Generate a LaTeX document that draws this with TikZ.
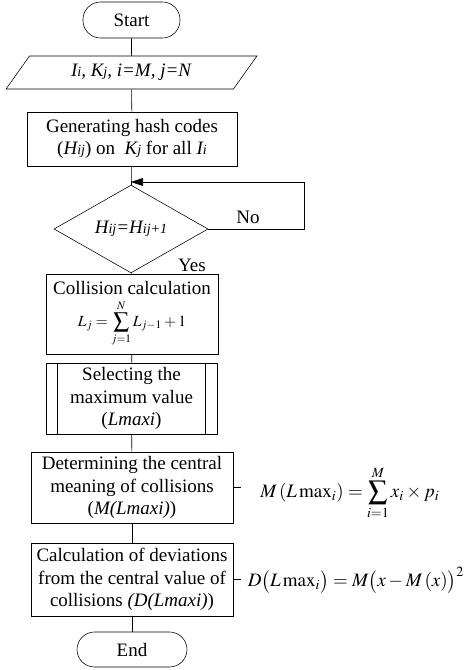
\documentclass[tikz,border=0pt]{standalone}
\usepackage{mathptmx}
\usepackage{fontspec}
\setmainfont{Liberation Serif}
\usetikzlibrary{shapes.geometric,arrows.meta}
\newcommand{\sm}[1]{{\fontsize{10}{12}\selectfont #1}}
\begin{document}
\begin{tikzpicture}[x=0.025cm,y=-0.025cm,
  every node/.style={font=\fontsize{13.5}{16}\selectfont},
  term/.style={draw,rounded corners=0.44cm,minimum width=2.425cm,minimum height=0.9cm},
  io/.style={draw,trapezium,trapezium left angle=60,trapezium right angle=120,
    trapezium stretches=true,minimum width=6.275cm,minimum height=0.825cm},
  box/.style={draw,align=center,inner sep=2pt},
  decision/.style={draw,diamond,inner sep=0pt,minimum width=3.85cm,minimum height=1.55cm}]
\useasboundingbox (0,0) rectangle (474,670);
% flow
\node (start) at (131.5,20) [term] {Start};
\node (input) at (131.5,72.5) [io] {\textit{I\sm{i}, K\sm{j}, i=M, j=N}};
\node (gen) at (132,139) [box,minimum width=5.25cm,minimum height=1.35cm]
  {Generating hash codes\\(\textit{H\sm{ij}}) on\ \ \textit{K\sm{j}} for all \textit{I\sm{i}}};
\node (check) at (131,229) [decision] {\textit{H\sm{ij}=H\sm{ij+1}}};
\coordinate (merge) at (131,182);
\coordinate (loop) at (304,229);
\node (coll) at (132,314) [box,minimum width=4.3cm,minimum height=2cm]
  {Collision calculation\\[3pt]{\fontsize{11}{12}\selectfont$\displaystyle L_j=\sum_{j=1}^{N}L_{j-1}+1$}};
\node (sel) at (131.5,398.5) [box,minimum width=4.275cm,minimum height=1.775cm]
  {Selecting the\\maximum value\\(\textit{Lmaxi})};
\draw ([xshift=0.3cm]sel.north west) -- ([xshift=0.3cm]sel.south west);
\draw ([xshift=-0.3cm]sel.north east) -- ([xshift=-0.3cm]sel.south east);
\node (mean) at (132,487.5) [box,minimum width=5.05cm,minimum height=1.775cm]
  {Determining the central\\meaning of collisions\\(\textit{M(Lmaxi)})};
\node (dev) at (132,579.5) [box,minimum width=5.05cm,minimum height=1.825cm]
  {Calculation of deviations\\from the central value of\\collisions \textit{(D(Lmaxi)})};
\node (end) at (132,649.5) [term,minimum width=2.75cm,minimum height=0.875cm] {End};
% formulas
\node (fmean) at (350,493) {$\displaystyle M\left(L\,\mathrm{max}_i\right)=\sum_{i=1}^{M}x_i\times p_i$};
\node (fdev) at (356,580) {$\displaystyle D\bigl(L\,\mathrm{max}_i\bigr)=M\bigl(x-M\left(x\right)\bigr)^2$};
\coordinate (tmean) at ([xshift=0.2cm]mean.east);
\coordinate (tdev) at ([xshift=0.2cm]dev.east);
% labels
\node (no) at (248,217) {No};
\node (yes) at (192,265) {Yes};
% connectors
\draw (start) -- (input);
\draw (input) -- (gen);
\draw (gen) -- (check);
\draw (check) -- (coll);
\draw (coll) -- (sel);
\draw (sel) -- (mean);
\draw (mean) -- (dev);
\draw (dev) -- (end);
\draw[-{Triangle[length=0.3cm,width=0.2cm]}] (check.east) -- (loop) |- (merge);
\draw (mean.east) -- (tmean);
\draw (dev.east) -- (tdev);
\end{tikzpicture}
\end{document}
